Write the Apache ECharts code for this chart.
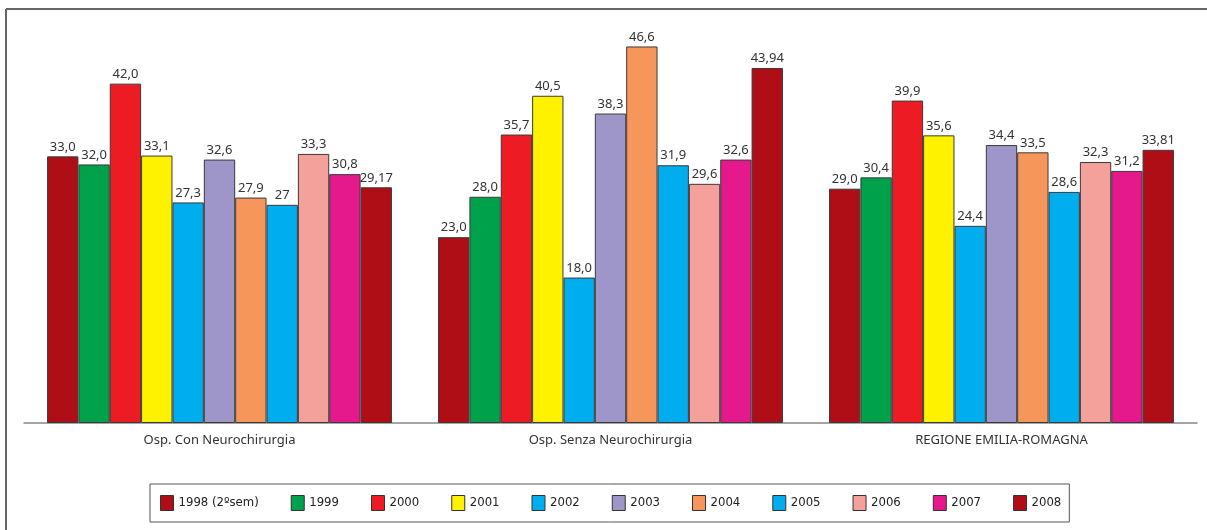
<!DOCTYPE html>
<html>
<head>
    <meta charset="utf-8">
    <title>Osp Neurochirurgia</title>
    <script src="https://cdn.jsdelivr.net/npm/echarts@6/dist/echarts.min.js"></script>
    <style>
        html, body { margin: 0; padding: 0; background: #fff; }
        #box { width: 1207px; height: 530px; }
    </style>
</head>
<body>
    <div id="box"></div>
    <script>
        // gruppi sull'asse x
        var categories = ['Osp. Con Neurochirurgia', 'Osp. Senza Neurochirurgia', 'REGIONE EMILIA-ROMAGNA'];
        // anni (serie)
        var years = ['1998 (2ºsem)', '1999', '2000', '2001', '2002', '2003', '2004', '2005', '2006', '2007', '2008'];
        var colors = ['#af0e16', '#00a14b', '#ed1c24', '#fff200', '#00aeef', '#9e96c8', '#f7965a', '#00aeef', '#f4a09b', '#e5198b', '#af0e16'];

        // valori come stampati sulle barre
        var conNeuro = ['33,0', '32,0', '42,0', '33,1', '27,3', '32,6', '27,9', '27', '33,3', '30,8', '29,17'];
        var senzaNeuro = ['23,0', '28,0', '35,7', '40,5', '18,0', '38,3', '46,6', '31,9', '29,6', '32,6', '43,94'];
        var regione = ['29,0', '30,4', '39,9', '35,6', '24,4', '34,4', '33,5', '28,6', '32,3', '31,2', '33,81'];

        function num(s) { return parseFloat(s.replace(',', '.')); }

        var series = years.map(function (y, i) {
            var txt = [conNeuro[i], senzaNeuro[i], regione[i]];
            return {
                name: y,
                type: 'bar',
                barGap: 0,
                barCategoryGap: '11.8%',
                data: txt.map(function (s) { return { value: num(s), text: s }; }),
                itemStyle: { color: colors[i], borderColor: '#3a3a3a', borderWidth: 1 },
                label: {
                    show: true,
                    position: 'top',
                    distance: 3,
                    color: '#333',
                    fontFamily: 'Noto Sans',
                    fontSize: 13,
                    formatter: function (p) { return p.data.text; }
                },
                emphasis: { disabled: true }
            };
        });

        var myChart = echarts.init(document.getElementById('box'));
        var option = {
            animation: false,
            color: colors,
            grid: { left: 24, right: 10, top: 19, bottom: 107 },
            legend: {
                data: years,
                bottom: 8,
                left: 150,
                icon: 'rect',
                itemWidth: 13,
                itemHeight: 15,
                itemGap: 32,
                itemStyle: { borderColor: '#333', borderWidth: 1 },
                padding: [11, 8, 11, 10],
                borderColor: '#555',
                borderWidth: 1,
                textStyle: { fontFamily: 'DejaVu Sans Condensed', fontSize: 13, color: '#222' }
            },
            xAxis: {
                type: 'category',
                data: categories,
                axisLine: { lineStyle: { color: '#888', width: 1.5 } },
                axisTick: { length: 4, lineStyle: { color: '#888' } },
                axisLabel: { color: '#333', fontFamily: 'Noto Sans', fontSize: 13, margin: 11 }
            },
            yAxis: {
                type: 'value',
                min: 0,
                max: 50,
                show: false
            },
            graphic: [
                { type: 'line', shape: { x1: 6, y1: 9, x2: 6, y2: 530 }, style: { stroke: '#666', lineWidth: 2 } },
                { type: 'line', shape: { x1: 6, y1: 9, x2: 1207, y2: 9 }, style: { stroke: '#666', lineWidth: 2 } }
            ],
            series: series
        };
        myChart.setOption(option);
    </script>
</body>
</html>
